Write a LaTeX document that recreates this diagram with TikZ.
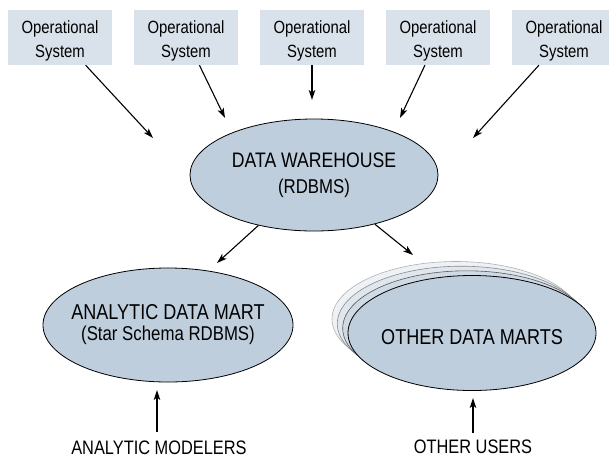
\documentclass[tikz,border=0pt]{standalone}
\usepackage{fontspec}
\setmainfont{Liberation Sans}[FakeStretch=0.84]
\usetikzlibrary{arrows.meta,shapes.geometric}
\definecolor{boxfill}{RGB}{217,225,234}
\definecolor{ellfill}{RGB}{191,206,221}
\definecolor{back1}{RGB}{208,218,229}
\definecolor{back2}{RGB}{224,230,238}
\definecolor{back3}{RGB}{238,241,245}
\begin{document}
\begin{tikzpicture}[x=1pt,y=-1pt,
  opsys/.style={fill=boxfill, minimum width=104pt, minimum height=55pt, inner sep=0pt,
    align=center, font=\fontsize{17.7}{23.5}\selectfont},
  store/.style={ellipse, draw=black, line width=0.8pt, fill=ellfill,
    inner xsep=-20pt, inner ysep=-5pt, align=center},
  flow/.style={-{Stealth[length=10pt,width=6.5pt,inset=2.5pt]}, line width=1.1pt},
  caption/.style={font=\fontsize{19.5}{22}\selectfont, inner sep=0pt}]
\useasboundingbox (0,0) rectangle (609,458);

% operational systems
\foreach \i/\x in {1/60,2/186,3/312,4/438,5/564}
  \node[opsys] (b\i) at (\x,37.5) {\rule{0pt}{20pt}Operational\\System};

% arrow end points
\coordinate (e1) at (153,138);
\coordinate (e2) at (225,118);
\coordinate (e3) at (312,100);
\coordinate (e4) at (400,118);
\coordinate (e5) at (473,138);
\coordinate (e6) at (217,263);
\coordinate (e7) at (413,255);

% data warehouse
\node[store, minimum width=248pt, minimum height=112pt,
  font=\fontsize{21}{26.5}\selectfont] (dw) at (314,175)
  {DATA WAREHOUSE\\{\fontsize{20}{26.5}\selectfont (RDBMS)}};

% analytic data mart
\node[store, minimum width=250pt, minimum height=114pt,
  font=\fontsize{21.5}{21}\selectfont] (am) at (168,325)
  {ANALYTIC DATA MART\\{\fontsize{20}{21}\selectfont (Star Schema RDBMS)}};

% other data marts (stack)
\node[store, draw=black!30, line width=0.6pt, fill=back3, minimum width=248pt, minimum height=115pt] (dm3) at (456,319) {};
\node[store, draw=black!45, line width=0.6pt, fill=back2, minimum width=248pt, minimum height=115pt] (dm2) at (461.3,323.7) {};
\node[store, draw=black!65, line width=0.6pt, fill=back1, minimum width=248pt, minimum height=115pt] (dm1) at (466.7,328.3) {};
\node[store, minimum width=248pt, minimum height=115pt,
  font=\fontsize{21.5}{21}\selectfont, text height=23pt, text depth=0pt] (odm) at (472,333)
  {OTHER DATA MARTS};

% user captions
\node[caption] (aml) at (159,448) {ANALYTIC MODELERS};
\node[caption] (oul) at (473,447) {OTHER USERS};
\coordinate (u1) at (157,432);
\coordinate (t1) at (157,390);
\coordinate (u2) at (473,433);
\coordinate (t2) at (473,398);

% connectors
\foreach \i in {1,...,5}
  \draw[flow] (b\i) -- (e\i);
\draw[flow] (dw) -- (e6);
\draw[flow] (dw) -- (e7);
\draw[flow] (u1) -- (t1);
\draw[flow] (u2) -- (t2);
\end{tikzpicture}
\end{document}
